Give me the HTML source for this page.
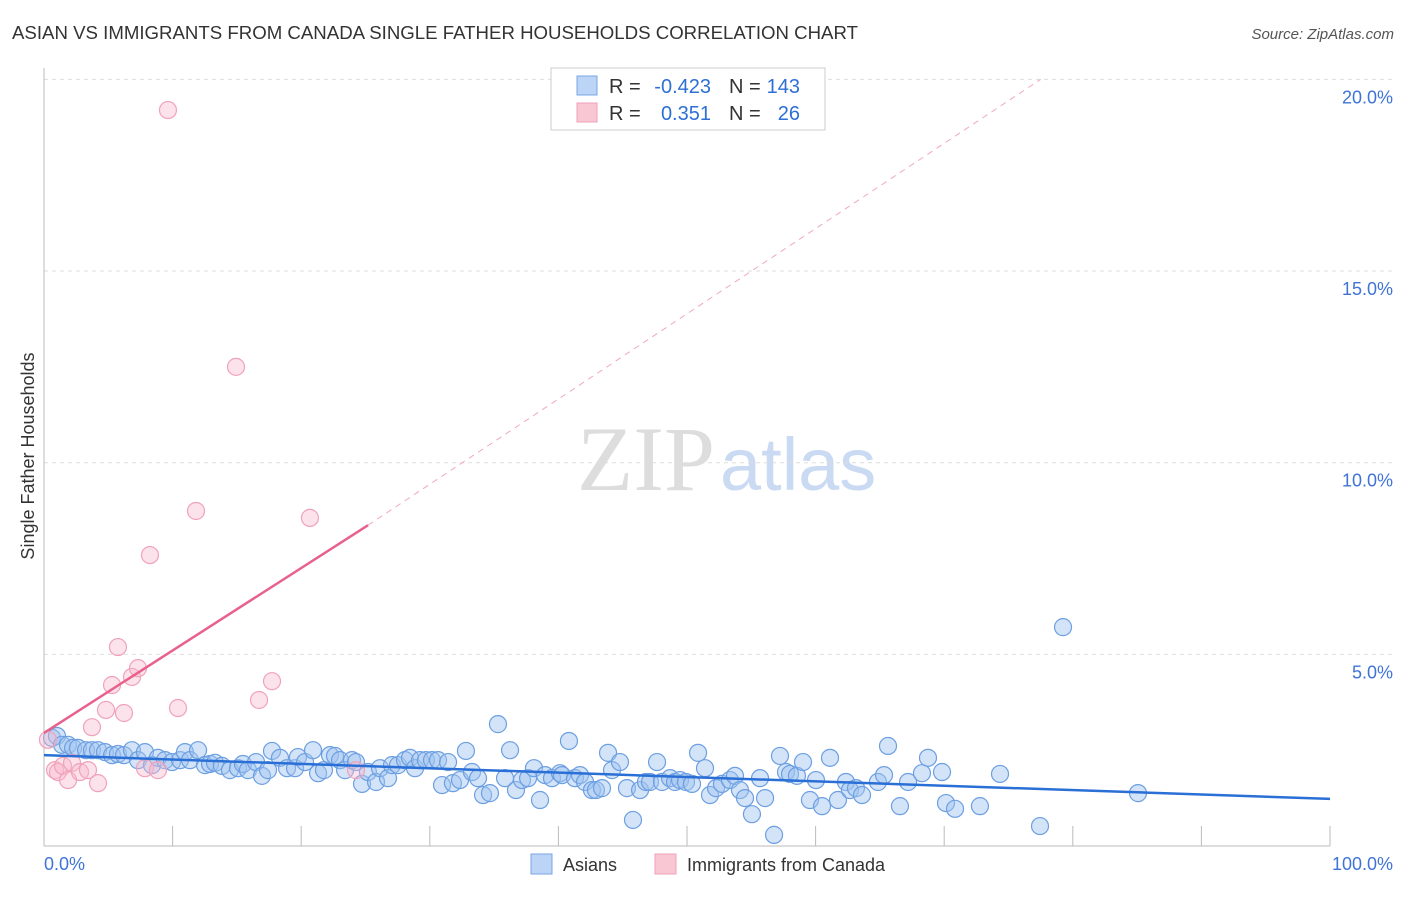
<!DOCTYPE html>
<html><head><meta charset="utf-8"><style>
body{margin:0;background:#fff;font-family:"Liberation Sans",sans-serif}
</style></head><body>
<svg width="1406" height="892" xmlns="http://www.w3.org/2000/svg" id="svg">
<text x="12" y="39" font-size="18.5" fill="#333" textLength="846" lengthAdjust="spacingAndGlyphs">ASIAN VS IMMIGRANTS FROM CANADA SINGLE FATHER HOUSEHOLDS CORRELATION CHART</text>
<text x="1394" y="39" font-size="15" fill="#555" font-style="italic" text-anchor="end">Source: ZipAtlas.com</text>
<text x="715" y="490" font-size="92" fill="#ddd" text-anchor="end" font-family="Liberation Serif,serif">ZIP</text>
<text x="720" y="490" font-size="74" fill="#c9daf2">atlas</text>
<text transform="translate(34,456) rotate(-90)" font-size="18" fill="#333" text-anchor="middle">Single Father Households</text>
<g id="grid"></g><g id="ticks"></g><g id="marks"></g>
<g font-size="20">
<rect x="551" y="68" width="274" height="62" fill="#fff" stroke="#ccc"/>
<rect x="577" y="76" width="20" height="19" fill="#bcd4f5" stroke="#7aa6e6"/>
<rect x="577" y="103" width="20" height="19" fill="#f9c6d4" stroke="#f0a0b8"/>
<text x="609" y="93" fill="#333">R =</text>
<text x="711" y="93" fill="#2e6fd6" text-anchor="end">-0.423</text>
<text x="729" y="93" fill="#333">N =</text>
<text x="800" y="93" fill="#2e6fd6" text-anchor="end">143</text>
<text x="609" y="120" fill="#333">R =</text>
<text x="711" y="120" fill="#2e6fd6" text-anchor="end">0.351</text>
<text x="729" y="120" fill="#333">N =</text>
<text x="800" y="120" fill="#2e6fd6" text-anchor="end">26</text>
</g>
<g>
<rect x="531" y="854" width="21" height="20" fill="#bcd4f5" stroke="#7aa6e6"/>
<text x="563" y="871" font-size="18" fill="#333">Asians</text>
<rect x="655" y="854" width="21" height="20" fill="#f9c6d4" stroke="#f0a0b8"/>
<text x="687" y="871" font-size="18" fill="#333">Immigrants from Canada</text>
</g>
</svg>
<script>
const blueX=[0.62,1.01,1.40,1.87,2.26,2.64,3.27,3.73,4.20,4.74,5.29,5.75,6.22,6.84,7.31,7.85,8.40,8.86,9.41,9.95,10.58,10.96,11.35,11.98,12.52,12.91,13.30,13.84,14.46,15.09,15.47,15.86,16.49,16.95,17.42,17.73,18.35,18.90,19.52,19.75,20.30,20.92,21.31,21.77,22.24,22.63,23.02,23.41,23.95,24.26,24.73,25.19,25.82,26.13,26.75,27.06,27.53,28.07,28.46,28.85,29.24,29.70,30.17,30.64,30.95,31.42,31.80,32.35,32.81,33.28,33.75,34.14,34.68,35.30,35.85,36.24,36.70,37.17,37.64,38.10,38.57,38.96,39.50,40.12,40.28,40.82,41.29,41.68,42.07,42.61,42.92,43.39,43.86,44.17,44.79,45.33,45.80,46.35,46.81,47.12,47.67,48.06,48.68,49.07,49.46,49.92,50.39,50.86,51.40,51.79,52.26,52.72,53.34,53.73,54.12,54.51,55.05,55.68,56.07,56.77,57.23,57.70,58.01,58.55,59.02,59.56,60.03,60.50,61.12,61.74,62.36,62.67,63.14,63.61,64.85,65.32,65.63,66.56,67.19,68.27,68.74,69.83,70.14,70.84,72.78,74.34,77.45,79.24,85.07];
const blueY=[2.82,2.87,2.64,2.64,2.56,2.56,2.50,2.50,2.50,2.45,2.37,2.40,2.37,2.50,2.24,2.45,2.11,2.30,2.24,2.19,2.24,2.45,2.24,2.50,2.11,2.14,2.17,2.09,1.98,2.03,2.14,1.98,2.19,1.83,1.98,2.48,2.30,2.03,2.03,2.32,2.19,2.50,1.90,1.98,2.37,2.35,2.24,1.98,2.24,2.19,1.62,1.93,1.67,2.03,1.77,2.11,2.11,2.24,2.30,2.03,2.24,2.24,2.24,2.24,1.59,2.19,1.64,1.72,2.48,1.93,1.77,1.33,1.38,3.18,1.77,2.50,1.46,1.72,1.77,2.03,1.20,1.85,1.77,1.90,1.85,2.74,1.77,1.85,1.67,1.46,1.46,1.51,2.43,1.98,2.19,1.51,0.68,1.46,1.67,1.67,2.19,1.67,1.77,1.67,1.72,1.67,1.62,2.43,2.03,1.33,1.51,1.62,1.72,1.83,1.46,1.25,0.83,1.77,1.25,0.29,2.35,1.93,1.88,1.83,2.19,1.20,1.72,1.04,2.30,1.20,1.67,1.46,1.51,1.33,1.67,1.85,2.61,1.04,1.67,1.90,2.30,1.93,1.12,0.97,1.04,1.88,0.52,5.71,1.38];
const pinkX=[0.31,0.86,1.09,1.48,1.87,2.18,2.80,3.42,3.73,4.20,4.82,5.29,5.75,6.22,6.84,7.31,7.85,8.24,8.86,9.64,10.42,11.82,14.93,16.72,17.73,20.68,24.26];
const pinkY=[2.77,1.98,1.93,2.09,1.72,2.17,1.93,1.98,3.10,1.64,3.55,4.20,5.19,3.47,4.41,4.64,2.03,7.59,1.98,19.20,3.60,8.74,12.50,3.81,4.30,8.56,1.98];
const yTicks=[5,10,15,20];
const yTickLabels=["5.0%","10.0%","15.0%","20.0%"];
const xTicks=[0,10,20,30,40,50,60,70,80,90,100];
const blueTrend=[[0,2.37],[100,1.23]];
const pinkTrendSolid=[[0,2.95],[25.2,8.37]];
const pinkTrendDash=[[25.2,8.37],[77.5,20]];

const NS="http://www.w3.org/2000/svg";
const X=v=>44+v*12.86, Y=v=>846-v*38.33;
function mk(tag,attrs,parent){const e=document.createElementNS(NS,tag);for(const k in attrs)e.setAttribute(k,attrs[k]);parent.appendChild(e);return e;}
const grid=document.getElementById('grid'),ticks=document.getElementById('ticks'),marks=document.getElementById('marks');
yTicks.forEach((t,i)=>{
 const l=mk('line',{x1:44,x2:1394,y1:Y(t),y2:Y(t),stroke:'#ddd','stroke-dasharray':'4,4'},grid);
 
 
 const tx=mk('text',{x:1393,y:Y(t)+24,'font-size':18,fill:'#3f74d6','text-anchor':'end'},ticks);
 tx.textContent=yTickLabels[i];
 
 
});
const ax=mk('line',{x1:44,x2:44,y1:68,y2:846,stroke:'#bbb'},ticks);


const bx=mk('line',{x1:44,x2:1330,y1:846,y2:846,stroke:'#bbb'},ticks);


xTicks.forEach(t=>{
 const l=mk('line',{x1:X(t),x2:X(t),y1:826,y2:846,stroke:'#bbb'},ticks);
 
 
});
const xl0=mk('text',{x:44,y:870,'font-size':18,fill:'#3f74d6'},ticks);xl0.textContent='0.0%';


const xl1=mk('text',{x:1393,y:870,'font-size':18,fill:'#3f74d6','text-anchor':'end'},ticks);xl1.textContent='100.0%';


blueX.forEach((x,i)=>{
 const c=mk('circle',{cx:X(x),cy:Y(blueY[i]),r:8.5,fill:'rgba(160,196,240,0.45)',stroke:'#6c9fe2','stroke-width':1.2},marks);
 
 
});
pinkX.forEach((x,i)=>{
 const c=mk('circle',{cx:X(x),cy:Y(pinkY[i]),r:8.5,fill:'rgba(248,185,204,0.4)',stroke:'#f0a2ba','stroke-width':1.2},marks);
 
 
});
const bt=mk('line',{x1:X(blueTrend[0][0]),y1:Y(blueTrend[0][1]),x2:X(blueTrend[1][0]),y2:Y(blueTrend[1][1]),stroke:'#2a6fd6','stroke-width':2.5},marks);


const pt=mk('line',{x1:X(pinkTrendSolid[0][0]),y1:Y(pinkTrendSolid[0][1]),x2:X(pinkTrendSolid[1][0]),y2:Y(pinkTrendSolid[1][1]),stroke:'#e8608c','stroke-width':2.5},marks);


const pd=mk('line',{x1:X(pinkTrendDash[0][0]),y1:Y(pinkTrendDash[0][1]),x2:X(pinkTrendDash[1][0]),y2:Y(pinkTrendDash[1][1]),stroke:'#f0a8bf','stroke-width':1,'stroke-dasharray':'6,5'},marks);


</script>
</body></html>
